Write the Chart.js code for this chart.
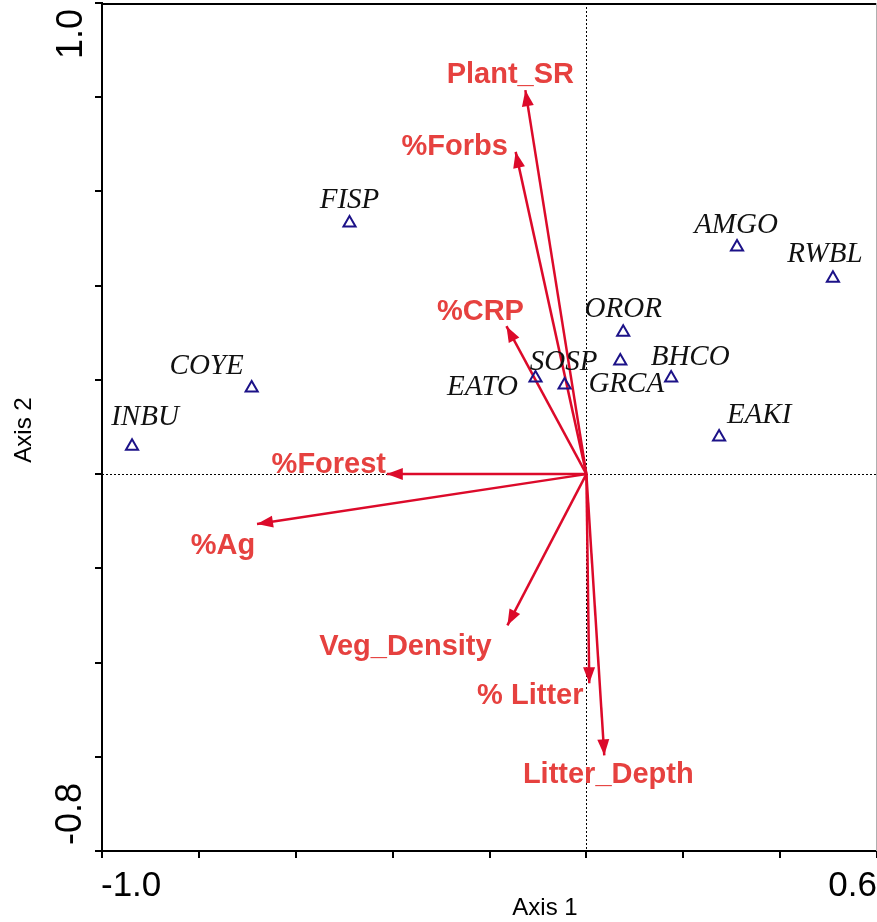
<!DOCTYPE html>
<html>
<head>
<meta charset="utf-8">
<script src="https://cdn.jsdelivr.net/npm/chart.js@4.4.1/dist/chart.umd.min.js"></script>
<style>
  html, body { margin: 0; padding: 0; background: #fff; }
  #wrap { width: 877px; height: 922px; position: relative; }
</style>
</head>
<body>
<div id="wrap"><canvas id="c" width="877" height="922"></canvas></div>
<script>
// ---- Data ----
const speciesNames = ['FISP', 'COYE', 'INBU', 'EATO', 'SOSP', 'OROR', 'GRCA', 'BHCO', 'AMGO', 'RWBL', 'EAKI'];
const speciesAxis1 = [-0.489, -0.691, -0.938, -0.105, -0.045, 0.076, 0.070, 0.175, 0.311, 0.509, 0.274];
const speciesAxis2 = [0.533, 0.183, 0.059, 0.204, 0.189, 0.301, 0.240, 0.204, 0.482, 0.416, 0.079];

const envNames = ['Plant_SR', '%Forbs', '%CRP', '%Forest', '%Ag', 'Veg_Density', '% Litter', 'Litter_Depth'];
const envAxis1 = [-0.126, -0.146, -0.165, -0.412, -0.680, -0.163, 0.006, 0.037];
const envAxis2 = [0.815, 0.684, 0.314, 0.000, -0.106, -0.321, -0.444, -0.597];

const xTickLabels = ['-1.0', '0.6'];
const yTickLabels = ['1.0', '-0.8'];
const xTitle = 'Axis 1';
const yTitle = 'Axis 2';

// ---- Label placement (pixel offsets from the mark; layout only) ----
const speciesLabelOffset = [[0,-15],[-45,-14],[13,-21],[-53,17],[-1,-15],[0,-15],[6,31],[19,-13],[-1,-14],[-8,-16],[40,-14]];
const envLabelOffset = [[-15,-7],[-61,3],[-26,-6],[-58,-1],[-34,30],[-102,30],[-59,21],[4,28]];

const ARROW_RED = '#dc0a2a';
const TEXT_RED = '#e6413f';

const datasets = [];
datasets.push({
  label: 'species',
  data: speciesNames.map((n, i) => ({ x: speciesAxis1[i], y: speciesAxis2[i] })),
  pointStyle: 'triangle',
  pointRadius: 7,
  pointBorderWidth: 2,
  borderColor: '#1c1288',
  backgroundColor: 'rgba(0,0,0,0)',
  showLine: false,
  order: 1
});
envNames.forEach((n, i) => {
  datasets.push({
    label: n,
    data: [{ x: 0, y: 0 }, { x: envAxis1[i], y: envAxis2[i] }],
    showLine: true,
    borderColor: ARROW_RED,
    borderWidth: 2.5,
    borderCapStyle: 'butt',
    pointRadius: 0,
    fill: false,
    isArrow: true,
    order: 2
  });
});

const decor = {
  id: 'decor',
  beforeDatasetsDraw(chart) {
    const ctx = chart.ctx, xs = chart.scales.x, ys = chart.scales.y, a = chart.chartArea;
    ctx.save();
    ctx.strokeStyle = '#000';
    ctx.lineWidth = 1;
    ctx.setLineDash([2, 2]);
    const x0 = Math.round(xs.getPixelForValue(0)) + 0.5;
    const y0 = Math.round(ys.getPixelForValue(0)) + 0.5;
    ctx.beginPath(); ctx.moveTo(x0, a.top); ctx.lineTo(x0, a.bottom); ctx.stroke();
    ctx.beginPath(); ctx.moveTo(a.left, y0); ctx.lineTo(a.right, y0); ctx.stroke();
    ctx.setLineDash([]);
    // top frame line and light right edge
    ctx.lineWidth = 2;
    ctx.beginPath(); ctx.moveTo(a.left, a.top + 1); ctx.lineTo(a.right, a.top + 1); ctx.stroke();
    ctx.strokeStyle = '#b0b0b0';
    ctx.lineWidth = 1;
    ctx.beginPath(); ctx.moveTo(a.right - 0.5, a.top); ctx.lineTo(a.right - 0.5, a.bottom); ctx.stroke();
    ctx.restore();
  },
  afterDatasetsDraw(chart) {
    const ctx = chart.ctx, xs = chart.scales.x, ys = chart.scales.y, a = chart.chartArea;
    ctx.save();
    // arrow heads
    chart.data.datasets.forEach((ds, di) => {
      if (!ds.isArrow) return;
      const meta = chart.getDatasetMeta(di);
      const p0 = meta.data[0], p1 = meta.data[1];
      const ang = Math.atan2(p1.y - p0.y, p1.x - p0.x);
      const L = 16, W = 6;
      ctx.fillStyle = ARROW_RED;
      ctx.beginPath();
      ctx.moveTo(p1.x, p1.y);
      ctx.lineTo(p1.x - L * Math.cos(ang) + W * Math.sin(ang), p1.y - L * Math.sin(ang) - W * Math.cos(ang));
      ctx.lineTo(p1.x - L * Math.cos(ang) - W * Math.sin(ang), p1.y - L * Math.sin(ang) + W * Math.cos(ang));
      ctx.closePath();
      ctx.fill();
    });
    // environmental labels
    ctx.font = 'bold 29px "Liberation Sans", Arial, sans-serif';
    ctx.fillStyle = TEXT_RED;
    ctx.textAlign = 'center';
    ctx.textBaseline = 'alphabetic';
    envNames.forEach((n, i) => {
      const px = xs.getPixelForValue(envAxis1[i]), py = ys.getPixelForValue(envAxis2[i]);
      ctx.fillText(n, px + envLabelOffset[i][0], py + envLabelOffset[i][1]);
    });
    // species labels
    ctx.font = 'italic 29px "Liberation Serif", "Times New Roman", serif';
    ctx.fillStyle = '#111';
    speciesNames.forEach((n, i) => {
      const px = xs.getPixelForValue(speciesAxis1[i]), py = ys.getPixelForValue(speciesAxis2[i]);
      ctx.fillText(n, px + speciesLabelOffset[i][0], py + speciesLabelOffset[i][1]);
    });
    // tick labels
    ctx.fillStyle = '#000';
    ctx.font = '35px "Liberation Sans", Arial, sans-serif';
    ctx.textAlign = 'left';
    ctx.fillText(xTickLabels[0], xs.getPixelForValue(xs.min) - 1, a.bottom + 45);
    ctx.textAlign = 'right';
    ctx.fillText(xTickLabels[1], xs.getPixelForValue(xs.max), a.bottom + 45);
    // y tick labels rotated
    ctx.font = '36px "Liberation Sans", Arial, sans-serif';
    ctx.save();
    ctx.translate(a.left - 20, ys.getPixelForValue(ys.max) + 6);
    ctx.rotate(-Math.PI / 2);
    ctx.textAlign = 'right';
    ctx.fillText(yTickLabels[0], 0, 0);
    ctx.restore();
    ctx.save();
    ctx.translate(a.left - 21, ys.getPixelForValue(ys.min) - 6);
    ctx.rotate(-Math.PI / 2);
    ctx.textAlign = 'left';
    ctx.fillText(yTickLabels[1], 0, 0);
    ctx.restore();
    // axis titles
    ctx.font = '24px "Liberation Sans", Arial, sans-serif';
    ctx.textAlign = 'center';
    ctx.fillText(xTitle, 545, 915);
    ctx.save();
    ctx.translate(31, 430);
    ctx.rotate(-Math.PI / 2);
    ctx.fillText(yTitle, 0, 0);
    ctx.restore();
    ctx.restore();
  }
};

new Chart(document.getElementById('c'), {
  type: 'scatter',
  data: { datasets },
  options: {
    responsive: false,
    animation: false,
    events: [],
    layout: { padding: { top: 3, right: 0, left: 0, bottom: 0 }, autoPadding: false },
    plugins: { legend: { display: false }, tooltip: { enabled: false } },
    scales: {
      x: {
        type: 'linear', min: -1.0, max: 0.6,
        ticks: { display: false, stepSize: 0.2 },
        grid: { drawOnChartArea: false, drawTicks: true, tickLength: 7, color: '#000', lineWidth: 2 },
        border: { display: true, color: '#000', width: 2 },
        afterFit(s) { s.height = 71; s.paddingLeft = 0; s.paddingRight = 0; }
      },
      y: {
        type: 'linear', min: -0.8, max: 1.0,
        ticks: { display: false, stepSize: 0.2 },
        grid: { drawOnChartArea: false, drawTicks: true, tickLength: 7, color: '#000', lineWidth: 2 },
        border: { display: true, color: '#000', width: 2 },
        afterFit(s) { s.width = 102; s.paddingTop = 0; s.paddingBottom = 0; }
      }
    }
  },
  plugins: [decor]
});
</script>
</body>
</html>
